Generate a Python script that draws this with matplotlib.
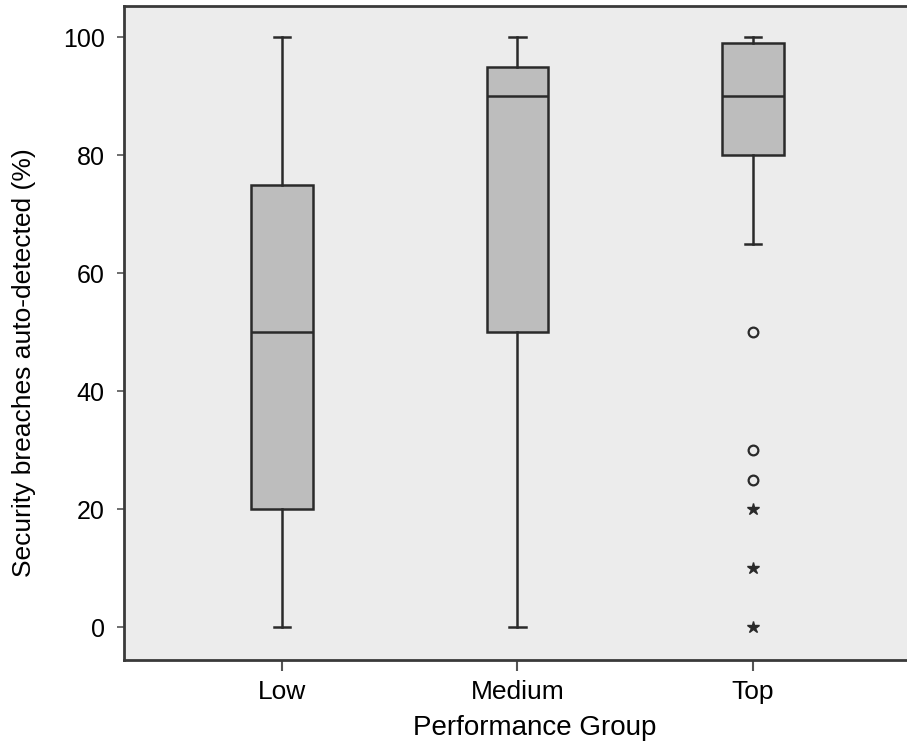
import matplotlib.pyplot as plt

plt.rcParams['font.family'] = ['Liberation Sans', 'DejaVu Sans']

# box statistics
groups = ['Low', 'Medium', 'Top']
whislo = [0, 0, 65]
q1 = [20, 50, 80]
med = [50, 90, 90]
q3 = [75, 95, 99]
whishi = [100, 100, 100]
outliers_circle = [[], [], [50, 30, 25]]
outliers_star = [[], [], [20, 10, 0]]

line_col = '#2a2a2a'

fig = plt.figure(figsize=(9.07, 7.51), dpi=100)
# the plot area runs past the right edge of the picture, as in the original
ax = fig.add_axes([0.137, 0.121, 0.906, 0.871])
ax.set_facecolor('#ececec')

stats = []
for i, g in enumerate(groups):
    stats.append(dict(label=g, whislo=whislo[i], q1=q1[i], med=med[i],
                      q3=q3[i], whishi=whishi[i], fliers=[]))

positions = [1, 2, 3]
ax.bxp(stats, positions=positions, widths=0.26, capwidths=0.07,
       patch_artist=True, showfliers=False,
       boxprops=dict(facecolor='#bdbdbd', edgecolor=line_col, linewidth=1.8),
       medianprops=dict(color=line_col, linewidth=1.8),
       whiskerprops=dict(color=line_col, linewidth=1.8),
       capprops=dict(color=line_col, linewidth=1.8))

for p, vals in zip(positions, outliers_circle):
    if vals:
        ax.plot([p] * len(vals), vals, linestyle='none', marker='o',
                markersize=7, markerfacecolor='none',
                markeredgecolor=line_col, markeredgewidth=1.6)
for p, vals in zip(positions, outliers_star):
    if vals:
        ax.plot([p] * len(vals), vals, linestyle='none', marker='*',
                markersize=9, color=line_col)

ax.set_xlim(0.33, 3.82)
ax.set_ylim(-5.6, 105.3)
ax.set_yticks([0, 20, 40, 60, 80, 100])
ax.set_xticks(positions)
ax.set_xticklabels(groups)

ax.tick_params(axis='y', length=5, width=1.2, pad=9, labelsize=18,
               color='#555555')
ax.tick_params(axis='x', length=8, width=1.5, pad=6, labelsize=19,
               color='#555555')

for side in ['left', 'bottom', 'top']:
    ax.spines[side].set_color('#3a3a3a')
    ax.spines[side].set_linewidth(2)
ax.spines['right'].set_visible(False)

ax.set_ylabel('Security breaches auto-detected (%)', fontsize=19)
ax.yaxis.set_label_coords(-0.108, 0.455)
ax.set_xlabel('Performance Group', fontsize=20, labelpad=8)

fig.savefig('out.png', dpi=100)
